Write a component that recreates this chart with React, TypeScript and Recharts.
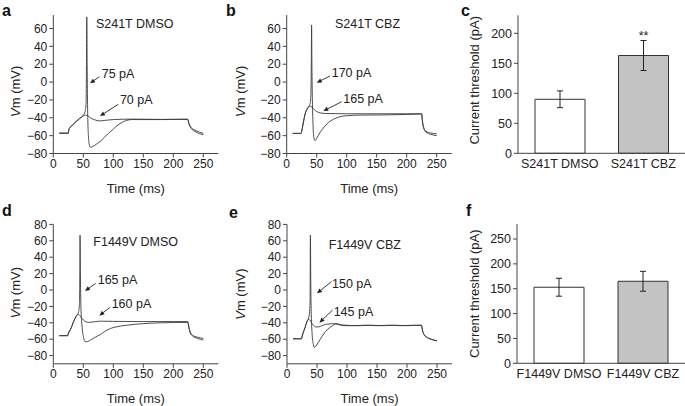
import React from 'react';
import {
  LineChart,
  Line,
  XAxis,
  YAxis,
  ReferenceLine,
  ReferenceDot,
  BarChart,
  Bar,
  Cell,
  ErrorBar,
  LabelList,
} from 'recharts';

const FONT = '"Liberation Sans", Arial, Helvetica, sans-serif';
const INK = '#222';
const AXIS = '#444';
const TRACE = '#3a3a3a';

type Pt = [number, number];

// axis ticks
const timeTicks = [0, 50, 100, 150, 200, 250];
const vmTicksTop = [-80, -60, -40, -20, 0, 20, 40, 60];
const vmTicksBottom = [-80, -60, -40, -20, 0, 20, 40, 60, 80];
const thrTicksTop = [0, 50, 100, 150, 200];
const thrTicksBottom = [0, 50, 100, 150, 200, 250];

// a: S241T DMSO (t ms, Vm mV)
const s241tDmso70: Pt[] = [
  [10, -57], [25, -57], [26, -53], [28, -51], [32, -48], [38, -44.5], [44, -41], [50, -38],
  [54, -37], [58, -38], [63, -40.5], [70, -42.5], [76, -43.5], [85, -43], [100, -42],
  [130, -41.5], [180, -41.8], [224, -41.5], [226, -46], [230, -51], [238, -54.5], [250, -57.5],
];
const s241tDmso75: Pt[] = [
  [10, -57.5], [25, -57.5], [26, -53], [28, -51], [32, -48], [38, -44], [44, -40.5], [50, -37],
  [53, -33], [54.5, -25], [55.3, 20], [55.8, 73], [56.4, 20], [57.2, -30], [58.5, -60], [60, -70],
  [62, -73], [66, -72], [72, -69.5], [78, -66.5], [85, -62], [92, -57.5], [100, -52.5], [108, -48],
  [115, -45], [122, -43], [130, -42], [180, -42], [224, -41.8], [226, -47], [230, -52], [238, -56],
  [250, -59],
];

// b: S241T CBZ
const s241tCbz165: Pt[] = [
  [10, -57.5], [24, -57.5], [25, -55], [27, -48], [29, -41], [31, -35], [34, -30], [37, -27.5],
  [39, -27], [42, -28], [46, -31], [50, -33], [56, -34.5], [65, -35.2], [100, -35.5], [150, -35.5],
  [200, -35.5], [225, -35.5], [226, -42], [228, -50], [232, -55], [240, -57], [250, -58],
];
const s241tCbz170: Pt[] = [
  [10, -57.5], [24, -57.5], [25, -55], [27, -48], [29, -41], [31, -35], [34, -30], [37, -27],
  [39, -24], [40.3, -15], [41, 20], [41.5, 64], [42, 20], [42.8, -20], [44, -50], [45.5, -63],
  [47, -65.5], [50, -63], [55, -57], [61, -51.5], [67, -47], [72, -44], [80, -41], [89, -38.7],
  [100, -37.7], [122, -37], [160, -36.8], [200, -36.3], [225, -35.8], [226, -43], [228, -51],
  [232, -56], [240, -58.5], [250, -60],
];

// d: F1449V DMSO
const f1449vDmso160: Pt[] = [
  [10, -55.7], [24, -55.7], [25, -53], [27, -50], [30, -46], [33, -40], [36, -35], [39, -31],
  [41.5, -29.5], [44, -31], [47, -34], [50, -36.5], [55, -39], [60, -39.5], [70, -38.5],
  [80, -38], [100, -38.3], [150, -38.5], [200, -38.5], [224, -38.5], [226, -45], [228, -51],
  [232, -55], [240, -57.5], [250, -59],
];
const f1449vDmso165: Pt[] = [
  [10, -55.7], [24, -55.7], [25, -53], [27, -50], [30, -46], [33, -40], [36, -35], [39, -31],
  [42, -27], [43.5, -18], [44.2, 20], [44.6, 67], [45.2, 20], [46, -20], [48, -45], [50.5, -58],
  [53, -63], [56, -63], [62, -61], [70, -57.5], [78, -54.5], [86, -50.5], [95, -47], [108, -44.5],
  [122, -43], [150, -41], [180, -40], [224, -39.5], [226, -46], [228, -52], [232, -56], [240, -59],
  [250, -61],
];

// e: F1449V CBZ
const f1449vCbz145: Pt[] = [
  [10, -59.5], [24, -59.5], [25, -57], [27, -52], [30, -46], [33, -39], [36, -36], [38, -36.5],
  [41, -40], [44, -43], [48, -45], [53, -45], [58, -43.5], [64, -42], [70, -41.5], [78, -41],
  [85, -42], [95, -43.5], [110, -43.5], [130, -43], [150, -43.5], [170, -43], [190, -43.5],
  [210, -43], [224, -43], [226, -50], [229, -55], [234, -58], [242, -60.5], [250, -62],
];
const f1449vCbz150: Pt[] = [
  [10, -59.5], [24, -59.5], [25, -57], [27, -52], [30, -46], [33, -39], [36, -34], [37.5, -28],
  [38.5, -10], [39, 67], [39.6, 10], [40.5, -30], [42, -55], [44, -67], [45.6, -70], [48, -68.5],
  [53, -63], [58, -57], [64, -51], [70, -46.5], [75, -44], [80, -41.5], [84, -41], [90, -42.5],
  [100, -43], [120, -43.5], [140, -43], [160, -43.5], [180, -43], [200, -43.5], [224, -43],
  [226, -50], [229, -55], [234, -58], [242, -60.5], [250, -62],
];

// c, f: current threshold (pA)
const s241tGroups = ['S241T DMSO', 'S241T CBZ'];
const s241tMeans = [90, 163];
const s241tErrs = [14, 25];
const s241tSig = ['', '**'];

const f1449vGroups = ['F1449V DMSO', 'F1449V CBZ'];
const f1449vMeans = [153, 165];
const f1449vErrs = [18, 20];
const f1449vSig = ['', ''];

const barFills = ['#ffffff', '#c3c3c3'];

interface Note {
  text: string;
  at: Pt;
  from: Pt;
  to: Pt;
}

const toPts = (arr: Pt[]) => arr.map(([t, v]) => ({ t, v }));
const fmtMinus = (v: number) => String(v).replace('-', '\u2212');

const ArrowShape = (p: any) => {
  const { x1, y1, x2, y2 } = p;
  const a = Math.atan2(y2 - y1, x2 - x1);
  const len = 5;
  const hw = 2.2;
  const bx = x2 - len * Math.cos(a);
  const by = y2 - len * Math.sin(a);
  const nx = -Math.sin(a) * hw;
  const ny = Math.cos(a) * hw;
  return (
    <g>
      <line x1={x1} y1={y1} x2={bx} y2={by} stroke={INK} strokeWidth={0.9} />
      <polygon points={`${x2},${y2} ${bx + nx},${by + ny} ${bx - nx},${by - ny}`} fill={INK} />
    </g>
  );
};

const yTitle = (x: number, dy: number, node: React.ReactNode) => ({
  content: (props: any) => {
    const vb = props.viewBox || { y: 0, height: 0 };
    return (
      <text
        transform={`translate(${x},${vb.y + vb.height / 2 + dy}) rotate(-90)`}
        textAnchor="middle"
        dominantBaseline="central"
        fontSize={13}
        fill={INK}
        fontFamily={FONT}
      >
        {node}
      </text>
    );
  },
});

const timeTitle = {
  content: (props: any) => {
    const vb = props.viewBox || { x: 0, y: 0, width: 0 };
    return (
      <text
        x={vb.x + vb.width / 2}
        y={vb.y + 35}
        textAnchor="middle"
        dominantBaseline="central"
        fontSize={13}
        fill={INK}
        fontFamily={FONT}
      >
        Time (ms)
      </text>
    );
  },
};

const vmNode = (
  <>
    <tspan fontStyle="italic">V</tspan>m (mV)
  </>
);

const tickStyle = { fontSize: 12, fill: INK, fontFamily: FONT };

interface Box {
  x0: number;
  x1: number;
  y0: number;
  y1: number;
}

interface TraceProps {
  left: number;
  top: number;
  width: number;
  height: number;
  plot: Box;
  yDomain: [number, number];
  yTicks: number[];
  title: string;
  titleAt: Pt;
  traces: Pt[][];
  notes: Note[];
  labelDy: number;
}

function TracePanel({ left, top, width, height, plot, yDomain, yTicks, title, titleAt, traces, notes, labelDy }: TraceProps) {
  const margin = { top: plot.y0 - top, right: left + width - plot.x1, left: 0, bottom: 0 };
  return (
    <div style={{ position: 'absolute', left, top }}>
      <LineChart width={width} height={height} margin={margin}>
        <XAxis
          type="number"
          dataKey="t"
          domain={[0, 275]}
          ticks={timeTicks}
          interval={0}
          height={top + height - plot.y1}
          tickSize={4}
          stroke={AXIS}
          tick={tickStyle}
          label={timeTitle}
        />
        <YAxis
          type="number"
          domain={yDomain}
          ticks={yTicks}
          interval={0}
          width={plot.x0 - left}
          tickSize={4}
          stroke={AXIS}
          tick={tickStyle}
          tickFormatter={fmtMinus}
          label={yTitle(15, labelDy, vmNode)}
        />
        {traces.map((tr, i) => (
          <Line
            key={i}
            data={toPts(tr)}
            dataKey="v"
            type="monotone"
            stroke={TRACE}
            strokeWidth={0.9}
            dot={false}
            activeDot={false}
            isAnimationActive={false}
          />
        ))}
        {notes.map((n, i) => (
          <ReferenceLine
            key={`a${i}`}
            segment={[
              { x: n.from[0], y: n.from[1] },
              { x: n.to[0], y: n.to[1] },
            ]}
            ifOverflow="visible"
            shape={ArrowShape}
          />
        ))}
        {notes.map((n, i) => (
          <ReferenceDot
            key={`t${i}`}
            x={n.at[0]}
            y={n.at[1]}
            r={0}
            fill="none"
            stroke="none"
            ifOverflow="visible"
            label={{ value: n.text, position: 'right', offset: 0, fontSize: 12.5, fill: INK, fontFamily: FONT }}
          />
        ))}
        <ReferenceDot
          x={titleAt[0]}
          y={titleAt[1]}
          r={0}
          fill="none"
          stroke="none"
          ifOverflow="visible"
          label={{ value: title, position: 'right', offset: 0, fontSize: 12.5, fill: INK, fontFamily: FONT }}
        />
      </LineChart>
    </div>
  );
}

interface BarProps {
  left: number;
  top: number;
  width: number;
  height: number;
  plot: Box;
  yMax: number;
  yTicks: number[];
  groups: string[];
  means: number[];
  errs: number[];
  sig: string[];
  labelX: number;
  labelDy: number;
}

function ThresholdPanel({ left, top, width, height, plot, yMax, yTicks, groups, means, errs, sig, labelX, labelDy }: BarProps) {
  const data = groups.map((g, i) => ({ name: g, mean: means[i], err: errs[i], sig: sig[i] }));
  const margin = { top: plot.y0 - top, right: left + width - plot.x1, left: 0, bottom: 0 };
  return (
    <div style={{ position: 'absolute', left, top }}>
      <BarChart width={width} height={height} data={data} margin={margin} barSize={50}>
        <XAxis
          dataKey="name"
          interval={0}
          tickLine={false}
          tickSize={4}
          height={top + height - plot.y1}
          stroke={AXIS}
          tick={{ ...tickStyle, fontSize: 12.5 }}
        />
        <YAxis
          type="number"
          domain={[0, yMax]}
          ticks={yTicks}
          interval={0}
          width={plot.x0 - left}
          tickSize={4}
          stroke={AXIS}
          tick={{ ...tickStyle, fontSize: 12.5 }}
          label={yTitle(labelX, labelDy, 'Current threshold (pA)')}
        />
        <Bar dataKey="mean" stroke="#333" strokeWidth={1} isAnimationActive={false}>
          {data.map((d, i) => (
            <Cell key={d.name} fill={barFills[i]} />
          ))}
          <ErrorBar dataKey="err" width={3} stroke={INK} strokeWidth={1} direction="y" />
          <LabelList dataKey="sig" position="top" offset={16} fontSize={12.5} fill={INK} fontFamily={FONT} />
        </Bar>
      </BarChart>
    </div>
  );
}

const letterStyle: React.CSSProperties = {
  position: 'absolute',
  fontFamily: FONT,
  fontWeight: 'bold',
  fontSize: 16,
  lineHeight: '16px',
  color: '#111',
};

export default function App() {
  const topBox = { y0: 15.1, y1: 153.5 };
  const botBox = { y0: 224.4, y1: 363.8 };
  return (
    <div
      style={{
        position: 'absolute',
        left: 0,
        top: 0,
        width: 685,
        height: 406,
        background: '#fff',
        overflow: 'hidden',
        fontFamily: FONT,
      }}
    >
      <TracePanel
        left={0}
        top={0}
        width={225}
        height={200}
        plot={{ x0: 53.3, x1: 218.3, ...topBox }}
        yDomain={[-80, 75]}
        yTicks={vmTicksTop}
        title="S241T DMSO"
        titleAt={[71, 65]}
        traces={[s241tDmso70, s241tDmso75]}
        notes={[
          { text: '75 pA', at: [80.7, 9.8], from: [76.7, 6], to: [61.2, -1.4] },
          { text: '70 pA', at: [111, -20], from: [108.3, -24.9], to: [77.8, -38] },
        ]}
        labelDy={7}
      />
      <TracePanel
        left={225}
        top={0}
        width={230}
        height={200}
        plot={{ x0: 286.7, x1: 451.7, ...topBox }}
        yDomain={[-80, 75]}
        yTicks={vmTicksTop}
        title="S241T CBZ"
        titleAt={[80.5, 65]}
        traces={[s241tCbz165, s241tCbz170]}
        notes={[
          { text: '170 pA', at: [75, 10.5], from: [72.2, 6.8], to: [50, -0.7] },
          { text: '165 pA', at: [94.3, -18.2], from: [91.7, -22], to: [61, -32.4] },
        ]}
        labelDy={7}
      />
      <ThresholdPanel
        left={455}
        top={0}
        width={230}
        height={200}
        plot={{ x0: 518, x1: 685, y0: 15.3, y1: 153.3 }}
        yMax={230}
        yTicks={thrTicksTop}
        groups={s241tGroups}
        means={s241tMeans}
        errs={s241tErrs}
        sig={s241tSig}
        labelX={19}
        labelDy={-4}
      />
      <TracePanel
        left={0}
        top={200}
        width={225}
        height={206}
        plot={{ x0: 53.3, x1: 218.3, ...botBox }}
        yDomain={[-90, 80]}
        yTicks={vmTicksBottom}
        title="F1449V DMSO"
        titleAt={[66.7, 58.9]}
        traces={[f1449vDmso160, f1449vDmso165]}
        notes={[
          { text: '165 pA', at: [74, 12.2], from: [70.6, 8.1], to: [52.8, -1.2] },
          { text: '160 pA', at: [97.3, -16.3], from: [94.5, -21.1], to: [76.7, -31.3] },
        ]}
        labelDy={-1.5}
      />
      <TracePanel
        left={225}
        top={200}
        width={230}
        height={206}
        plot={{ x0: 287, x1: 452, ...botBox }}
        yDomain={[-90, 80]}
        yTicks={vmTicksBottom}
        title="F1449V CBZ"
        titleAt={[69.4, 54.9]}
        traces={[f1449vCbz145, f1449vCbz150]}
        notes={[
          { text: '150 pA', at: [75, 8.1], from: [73.9, 10.1], to: [50, -4.1] },
          { text: '145 pA', at: [77.8, -26.4], from: [76, -24.4], to: [54, -39.8] },
        ]}
        labelDy={0}
      />
      <ThresholdPanel
        left={455}
        top={200}
        width={230}
        height={206}
        plot={{ x0: 517, x1: 685, y0: 224.1, y1: 363.3 }}
        yMax={280}
        yTicks={thrTicksBottom}
        groups={f1449vGroups}
        means={f1449vMeans}
        errs={f1449vErrs}
        sig={f1449vSig}
        labelX={19}
        labelDy={0}
      />
      <div style={{ ...letterStyle, left: 2, top: 3 }}>a</div>
      <div style={{ ...letterStyle, left: 226, top: 3 }}>b</div>
      <div style={{ ...letterStyle, left: 461, top: 3 }}>c</div>
      <div style={{ ...letterStyle, left: 2, top: 203 }}>d</div>
      <div style={{ ...letterStyle, left: 229, top: 205 }}>e</div>
      <div style={{ ...letterStyle, left: 466, top: 203 }}>f</div>
    </div>
  );
}
